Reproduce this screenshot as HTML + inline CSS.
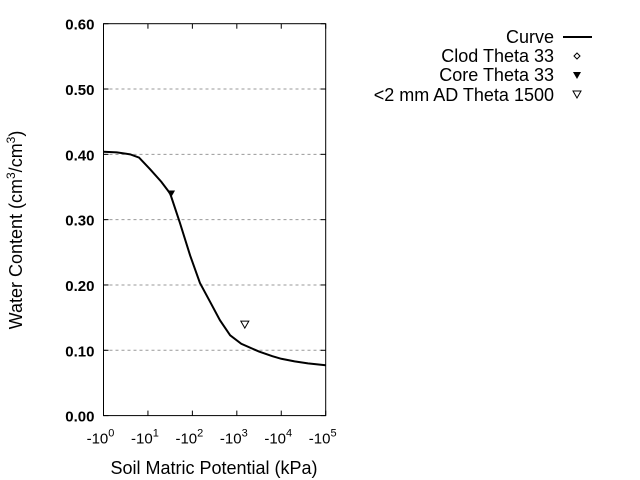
<!DOCTYPE html>
<html><head><meta charset="utf-8"><style>
body{margin:0;background:#fff;}
svg{display:block;font-family:"Liberation Sans",sans-serif;}
</style></head><body>
<svg width="640" height="480" viewBox="0 0 640 480">
<g id="grid"></g>
<g id="curve"></g>
<g id="marks"></g>
<rect x="103.5" y="23.7" width="222.2" height="391.9" fill="none" stroke="#000" stroke-width="1"/>
<g id="yticks"></g>
<g id="xticks"></g>
<text x="22" y="230" font-size="18" text-anchor="middle" transform="rotate(-90 22 230)">Water Content (cm<tspan font-size="12" dy="-7">3</tspan><tspan dy="7">/cm</tspan><tspan font-size="12" dy="-7">3</tspan><tspan dy="7">)</tspan></text>
<text x="214" y="474" font-size="18" text-anchor="middle">Soil Matric Potential (kPa)</text>
<g font-size="18" text-anchor="end">
<g><text x="554" y="43">Curve</text><line x1="563" y1="37" x2="592" y2="37" stroke="#000" stroke-width="2"/></g>
<g><text x="554" y="62">Clod Theta 33</text><path d="M577 53 L580 56 L577 59 L574 56 Z" fill="none" stroke="#000" stroke-width="1"/></g>
<g><text x="554" y="81">Core Theta 33</text><path d="M573 72 L581 72 L577 79 Z" fill="#000"/></g>
<g><text x="554" y="101">&lt;2 mm AD Theta 1500</text><path d="M573 91 L581 91 L577 98 Z" fill="none" stroke="#000"/></g>
</g>
</svg>
<script>
const yTicks=[0,0.1,0.2,0.3,0.4,0.5,0.6];
const yTickLabels=["0.00","0.10","0.20","0.30","0.40","0.50","0.60"];
const xTicks=[0,1,2,3,4,5];
const curveLogX=[0,0.3,0.6,0.8,1.05,1.3,1.5,1.72,1.95,2.17,2.4,2.62,2.85,3.1,3.5,3.8,4.0,4.3,4.6,5.0];
const curveTheta=[0.404,0.403,0.400,0.395,0.377,0.358,0.340,0.295,0.245,0.203,0.174,0.146,0.123,0.110,0.098,0.091,0.087,0.083,0.080,0.077];
const coreLogX=[1.52];const coreTheta=[0.34];
const adLogX=[3.18];const adTheta=[0.14];
const X0=103.5,X1=325.7,Y0=415.6,Y1=23.7;
const sx=v=>X0+(X1-X0)*v/5, sy=v=>Y0-(Y0-Y1)*v/0.6;
const NS="http://www.w3.org/2000/svg";
function mk(t,a,p){const e=document.createElementNS(NS,t);for(const k in a)e.setAttribute(k,a[k]);p.appendChild(e);return e;}
const grid=document.getElementById('grid'),yt=document.getElementById('yticks'),xt=document.getElementById('xticks');
yTicks.forEach((v,i)=>{const y=sy(v);
 if(v>0&&v<0.6){const g=mk('line',{x1:X0,x2:X1,y1:y,y2:y,stroke:'#999','stroke-dasharray':'3,3'},grid);}
 mk('line',{x1:X0,x2:X0+5,y1:y,y2:y,stroke:'#000'},yt);mk('line',{x1:X1-5,x2:X1,y1:y,y2:y,stroke:'#000'},yt);
 const t=mk('text',{x:X0-9,y:y+6,'font-size':15,'font-weight':'bold','text-anchor':'end'},yt);t.textContent=yTickLabels[i];
 });
xTicks.forEach(v=>{const x=sx(v);
 mk('line',{x1:x,x2:x,y1:Y0,y2:Y0-5,stroke:'#000'},xt);mk('line',{x1:x,x2:x,y1:Y1,y2:Y1+5,stroke:'#000'},xt);
 const t=mk('text',{x:x-3,y:Y0+28,'font-size':15,'text-anchor':'middle'},xt);
 t.innerHTML='-10<tspan font-size="11" dy="-7">'+v+'</tspan>';
 });
const pts=curveLogX.map((v,i)=>sx(v)+','+sy(curveTheta[i])).join(' ');
const pl=mk('polyline',{points:pts,fill:'none',stroke:'#000','stroke-width':2},document.getElementById('curve'));

const mg=document.getElementById('marks');
coreLogX.forEach((v,i)=>{const x=sx(v),y=sy(coreTheta[i]);const p=mk('path',{d:`M${x-4} ${y-3} L${x+4} ${y-3} L${x} ${y+4} Z`,fill:'#000'},mg);
 });
adLogX.forEach((v,i)=>{const x=sx(v),y=sy(adTheta[i]);const p=mk('path',{d:`M${x-4} ${y-3} L${x+4} ${y-3} L${x} ${y+4} Z`,fill:'none',stroke:'#000'},mg);
 });
</script>
</body></html>
